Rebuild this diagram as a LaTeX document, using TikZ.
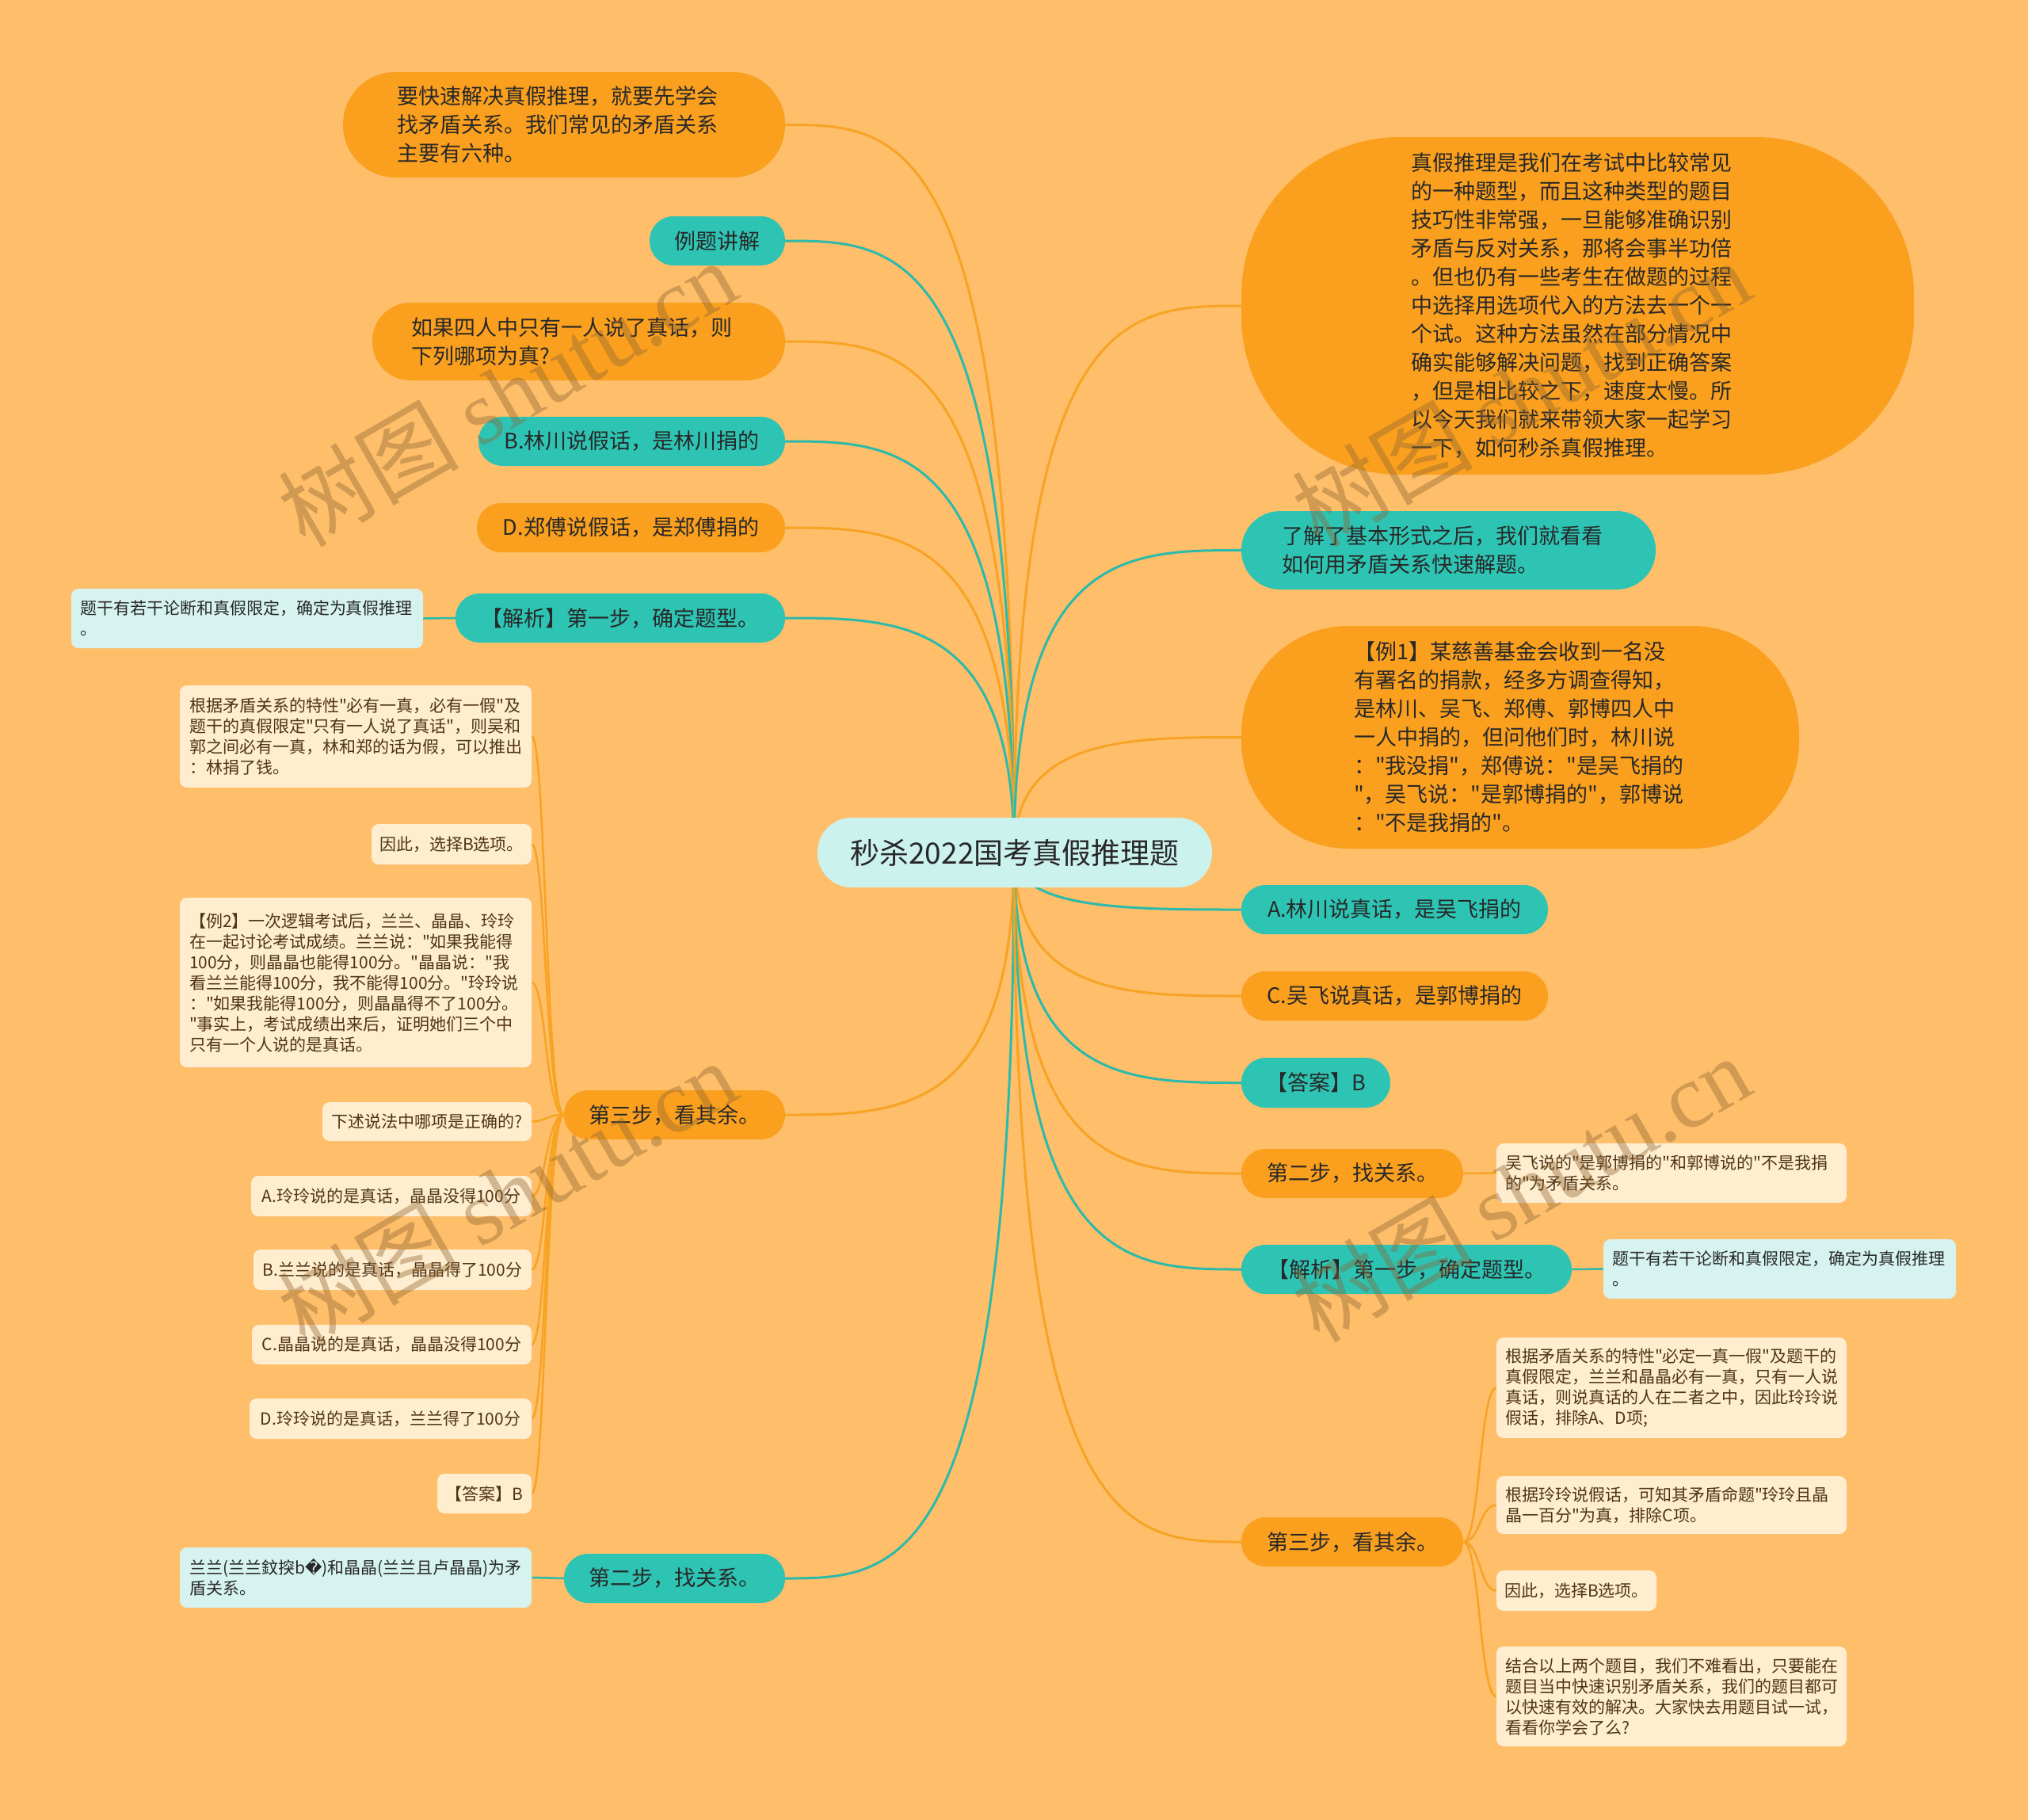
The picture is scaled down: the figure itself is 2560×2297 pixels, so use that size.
\documentclass[tikz,border=0pt]{standalone}
\usepackage{fontspec}
\setmainfont{Noto Sans CJK SC}[Ligatures=TeXOff]
\newfontfamily\dejavu{DejaVu Sans}
\newfontfamily\wmserif{Liberation Serif}
\usetikzlibrary{calc}
\pgfdeclarelayer{bg}
\pgfsetlayers{bg,main}
\definecolor{cBg}{RGB}{254,190,106}
\definecolor{cOrn}{RGB}{250,160,30}
\definecolor{cTeal}{RGB}{46,196,180}
\definecolor{cRoot}{RGB}{204,242,238}
\definecolor{cCyan}{RGB}{214,243,240}
\definecolor{cCream}{RGB}{255,237,208}
\definecolor{cOline}{RGB}{247,163,35}
\definecolor{cTline}{RGB}{44,186,170}
\definecolor{cTxt}{RGB}{40,40,40}
\definecolor{cBrown}{RGB}{80,52,22}
\definecolor{cWm}{RGB}{140,100,50}
\tikzset{
  box/.style={rectangle, inner sep=0pt, align=left},
  pill/.style={rounded corners=#1},
  onode/.style={box, fill=cOrn, text=cTxt, font=\fontsize{27}{36}\selectfont},
  tnode/.style={box, fill=cTeal, text=cTxt, font=\fontsize{27}{36}\selectfont},
  rootnode/.style={box, fill=cRoot, text=cTxt, font=\fontsize{37}{44}\selectfont, rounded corners=43pt},
  creamleaf/.style={box, fill=cCream, text=cBrown, rounded corners=9pt, font=\fontsize{21}{26}\selectfont},
  cyanleaf/.style={box, fill=cCyan, text=cTxt, rounded corners=9pt, font=\fontsize{21}{26}\selectfont},
  oline/.style={draw=cOline, line width=3pt},
  tline/.style={draw=cTline, line width=3pt},
  oleaf/.style={draw=cOline, line width=2.5pt},
  tleaf/.style={draw=cTline, line width=2.5pt},
  wm/.style={rotate=30, text=cWm, opacity=0.4, inner sep=0pt}
}
\begin{document}
\begin{tikzpicture}[x=1pt,y=-1pt]
\begin{pgfonlayer}{bg}
\fill[cBg] (0,0) rectangle (2560,2297);
\end{pgfonlayer}
\useasboundingbox (0,0) rectangle (2560,2297);

% root
\node[rootnode, minimum width=498pt, minimum height=88pt] (root) at (1281,1076) {秒杀2022国考真假推理题};
\coordinate (rc) at (1280,1076);

% left side
\node[onode, pill=66pt, minimum width=558pt, minimum height=133pt, text width=422pt] (L1) at (712,157.5) {要快速解决真假推理，就要先学会\\找矛盾关系。我们常见的矛盾关系\\主要有六种。};
\node[tnode, pill=30.5pt, minimum width=171pt, minimum height=62pt, align=center] (L2) at (905.5,304) {例题讲解};
\node[onode, pill=48pt, minimum width=521pt, minimum height=98pt, text width=423pt] (L3) at (730.5,431) {如果四人中只有一人说了真话，则\\下列哪项为真?};
\node[tnode, pill=30.5pt, minimum width=387pt, minimum height=62pt, align=center] (L4) at (797.5,557) {B.林川说假话，是林川捐的};
\node[onode, pill=30.5pt, minimum width=389pt, minimum height=62pt, align=center] (L5) at (796.5,666) {D.郑傅说假话，是郑傅捐的};
\node[tnode, pill=30.5pt, minimum width=416pt, minimum height=62pt, align=center] (L6) at (783,780) {【解析】第一步，确定题型。};
\node[cyanleaf, minimum width=444pt, minimum height=75pt, text width=422pt] (L6a) at (312,780.5) {题干有若干论断和真假限定，确定为真假推理\\。};
\node[onode, pill=30.5pt, minimum width=279pt, minimum height=62pt, align=center] (L7) at (851.5,1407) {第三步，看其余。};
\node[creamleaf, minimum width=444pt, minimum height=129pt, text width=420pt] (L7a) at (449,929.5) {根据矛盾关系的特性"必有一真，必有一假"及\\题干的真假限定"只有一人说了真话"，则吴和\\郭之间必有一真，林和郑的话为假，可以推出\\：林捐了钱。};
\node[creamleaf, minimum width=202pt, minimum height=51pt, align=center] (L7b) at (570,1065.5) {因此，选择B选项。};
\node[creamleaf, minimum width=444pt, minimum height=214pt, text width=420pt] (L7c) at (449,1240) {【例2】一次逻辑考试后，兰兰、晶晶、玲玲\\在一起讨论考试成绩。兰兰说："如果我能得\\100分，则晶晶也能得100分。"晶晶说："我\\看兰兰能得100分，我不能得100分。"玲玲说\\："如果我能得100分，则晶晶得不了100分。\\"事实上，考试成绩出来后，证明她们三个中\\只有一个人说的是真话。};
\node[creamleaf, minimum width=264pt, minimum height=49pt, align=center] (L7d) at (539,1415.5) {下述说法中哪项是正确的?};
\node[creamleaf, minimum width=354pt, minimum height=51pt, align=center] (L7e) at (494,1509.5) {A.玲玲说的是真话，晶晶没得100分};
\node[creamleaf, minimum width=351pt, minimum height=51pt, align=center] (L7f) at (495.5,1602.5) {B.兰兰说的是真话，晶晶得了100分};
\node[creamleaf, minimum width=353pt, minimum height=50pt, align=center] (L7g) at (494.5,1697) {C.晶晶说的是真话，晶晶没得100分};
\node[creamleaf, minimum width=356pt, minimum height=51pt, align=center] (L7h) at (493,1790.5) {D.玲玲说的是真话，兰兰得了100分};
\node[creamleaf, minimum width=119pt, minimum height=50pt, align=center] (L7i) at (611.5,1885) {【答案】B};
\node[tnode, pill=30.5pt, minimum width=279pt, minimum height=62pt, align=center] (L8) at (851.5,1992) {第二步，找关系。};
\node[cyanleaf, minimum width=444pt, minimum height=76pt, text width=420pt] (L8a) at (449,1991) {兰兰(兰兰鈫揬b{\dejavu �})和晶晶(兰兰且卢晶晶)为矛\\盾关系。};

% right side
\node[onode, pill=200pt, minimum width=849pt, minimum height=426pt, text width=421pt] (R1) at (1991.5,386) {真假推理是我们在考试中比较常见\\的一种题型，而且这种类型的题目\\技巧性非常强，一旦能够准确识别\\矛盾与反对关系，那将会事半功倍\\。但也仍有一些考生在做题的过程\\中选择用选项代入的方法去一个一\\个试。这种方法虽然在部分情况中\\确实能够解决问题，找到正确答案\\，但是相比较之下，速度太慢。所\\以今天我们就来带领大家一起学习\\一下，如何秒杀真假推理。};
\node[tnode, pill=49pt, minimum width=523pt, minimum height=99pt, text width=421pt] (R2) at (1828.5,694.5) {了解了基本形式之后，我们就看看\\如何用矛盾关系快速解题。};
\node[onode, pill=135pt, minimum width=704pt, minimum height=281pt, text width=420pt] (R3) at (1919,930.5) {【例1】某慈善基金会收到一名没\\有署名的捐款，经多方调查得知，\\是林川、吴飞、郑傅、郭博四人中\\一人中捐的，但问他们时，林川说\\："我没捐"，郑傅说："是吴飞捐的\\"，吴飞说："是郭博捐的"，郭博说\\："不是我捐的"。};
\node[tnode, pill=30.5pt, minimum width=387pt, minimum height=62pt, align=center] (R4) at (1760.5,1148) {A.林川说真话，是吴飞捐的};
\node[onode, pill=30.5pt, minimum width=387pt, minimum height=62pt, align=center] (R5) at (1760.5,1257) {C.吴飞说真话，是郭博捐的};
\node[tnode, pill=31pt, minimum width=188pt, minimum height=63pt, align=center] (R6) at (1661,1366.5) {【答案】B};
\node[onode, pill=30.5pt, minimum width=280pt, minimum height=62pt, align=center] (R7) at (1707,1481) {第二步，找关系。};
\node[creamleaf, minimum width=442pt, minimum height=75pt, text width=420pt] (R7a) at (2110,1480.5) {吴飞说的"是郭博捐的"和郭博说的"不是我捐\\的"为矛盾关系。};
\node[tnode, pill=30.5pt, minimum width=417pt, minimum height=62pt, align=center] (R8) at (1775.5,1602) {【解析】第一步，确定题型。};
\node[cyanleaf, minimum width=445pt, minimum height=75pt, text width=422pt] (R8a) at (2246.5,1601.5) {题干有若干论断和真假限定，确定为真假推理\\。};
\node[onode, pill=30.5pt, minimum width=280pt, minimum height=62pt, align=center] (R9) at (1707,1946) {第三步，看其余。};
\node[creamleaf, minimum width=442pt, minimum height=127pt, text width=420pt] (R9a) at (2110,1751.5) {根据矛盾关系的特性"必定一真一假"及题干的\\真假限定，兰兰和晶晶必有一真，只有一人说\\真话，则说真话的人在二者之中，因此玲玲说\\假话，排除A、D项;};
\node[creamleaf, minimum width=442pt, minimum height=73pt, text width=420pt] (R9b) at (2110,1899.5) {根据玲玲说假话，可知其矛盾命题"玲玲且晶\\晶一百分"为真，排除C项。};
\node[creamleaf, minimum width=202pt, minimum height=51pt, align=center] (R9c) at (1990,2007.5) {因此，选择B选项。};
\node[creamleaf, minimum width=442pt, minimum height=126pt, text width=420pt] (R9d) at (2110,2141) {结合以上两个题目，我们不难看出，只要能在\\题目当中快速识别矛盾关系，我们的题目都可\\以快速有效的解决。大家快去用题目试一试，\\看看你学会了么?};

\coordinate (l7s) at (689,1407);
\coordinate (r9s) at (1868,1946);

\begin{pgfonlayer}{bg}
% root to left children
\foreach \n/\s in {L1/oline,L2/tline,L3/oline,L4/tline,L5/oline,L6/tline,L7/oline,L8/tline}{
  \draw[\s] (rc) .. controls (rc |- \n.east) and ($(rc |- \n.east)!0.5!(\n.east)$) .. (\n.east);
}
% root to right children
\foreach \n/\s in {R1/oline,R2/tline,R3/oline,R4/tline,R5/oline,R6/tline,R7/oline,R8/tline,R9/oline}{
  \draw[\s] (rc) .. controls (rc |- \n.west) and ($(rc |- \n.west)!0.5!(\n.west)$) .. (\n.west);
}
% leaves
\draw[tleaf] (L6.west) -- (L6a.east);
\draw[tleaf] (L8.west) -- (L8a.east);
\draw[oleaf] (R7.east) -- (R7a.west);
\draw[tleaf] (R8.east) -- (R8a.west);
\foreach \n in {L7a,L7b,L7c,L7d,L7e,L7f,L7g,L7h,L7i}{
  \draw[oleaf] (L7.west) .. controls (l7s) and (l7s |- \n.east) .. (\n.east);
}
\foreach \n in {R9a,R9b,R9c,R9d}{
  \draw[oleaf] (R9.east) .. controls (r9s) and (r9s |- \n.west) .. (\n.west);
}
\end{pgfonlayer}

% watermarks
\foreach \p [count=\i] in {(640,496),(1920,496),(640,1506),(1920,1500)}{
  \node[wm] (wm\i) at \p {\fontsize{114}{120}\selectfont 树图 {\wmserif shutu.cn}};
}
\end{tikzpicture}
\end{document}
